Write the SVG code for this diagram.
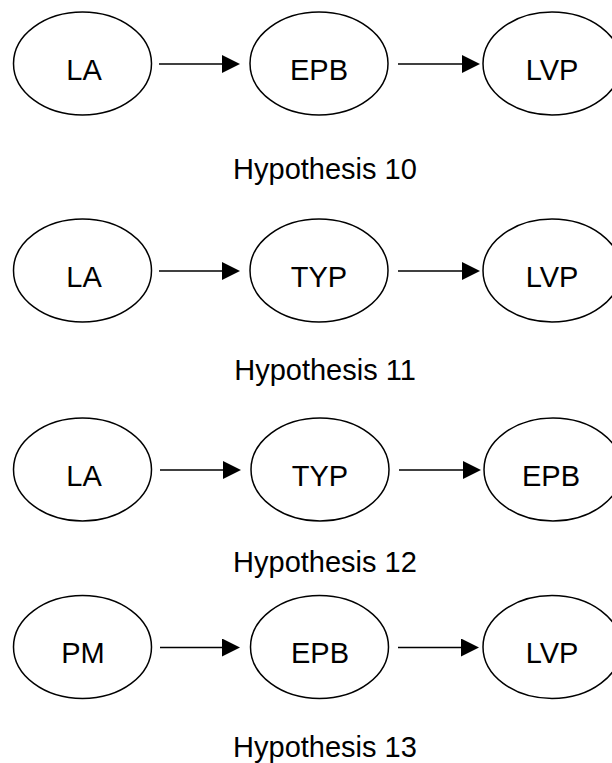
<svg xmlns="http://www.w3.org/2000/svg" width="612" height="763" viewBox="0 0 612 763">
  <style>
    .node ellipse { fill: #ffffff; stroke: #000000; stroke-width: 1.5; }
    .node text { font-family: "Liberation Sans", Arial, sans-serif; font-size: 29px; fill: #000000; text-anchor: middle; }
    .edge { stroke: #000000; stroke-width: 1.3; fill: none; marker-end: url(#arrow); }
    .caption { font-family: "Liberation Sans", Arial, sans-serif; font-size: 29px; fill: #000000; text-anchor: middle; }
  </style>
  <defs>
    <marker id="arrow" markerUnits="userSpaceOnUse" markerWidth="18" markerHeight="18" refX="8" refY="9" orient="auto">
      <path d="M0,0 L18,9 L0,18 Z" fill="#000000"/>
    </marker>
  </defs>
  <rect width="612" height="763" fill="#ffffff"/>

  <!-- Hypothesis 10 -->
  <g id="h10-la" class="node"><ellipse cx="82.5" cy="63.5" rx="69" ry="51.5"/><text x="84" y="79.5">LA</text></g>
  <g id="h10-epb" class="node"><ellipse cx="319" cy="63.5" rx="69" ry="51.5"/><text x="319" y="79.5">EPB</text></g>
  <g id="h10-lvp" class="node"><ellipse cx="552" cy="63.5" rx="69" ry="51.5"/><text x="552" y="79.5">LVP</text></g>
  <text class="caption" x="325" y="179">Hypothesis 10</text>

  <!-- Hypothesis 11 -->
  <g id="h11-la" class="node"><ellipse cx="82.5" cy="270.5" rx="69" ry="51.5"/><text x="84" y="287">LA</text></g>
  <g id="h11-typ" class="node"><ellipse cx="319" cy="270.5" rx="69" ry="51.5"/><text x="319" y="287">TYP</text></g>
  <g id="h11-lvp" class="node"><ellipse cx="552" cy="270.5" rx="69" ry="51.5"/><text x="552" y="287">LVP</text></g>
  <text class="caption" x="325" y="380">Hypothesis 11</text>

  <!-- Hypothesis 12 -->
  <g id="h12-la" class="node"><ellipse cx="82.5" cy="469.5" rx="69" ry="51.5"/><text x="84" y="486">LA</text></g>
  <g id="h12-typ" class="node"><ellipse cx="320" cy="469.5" rx="69" ry="51.5"/><text x="320" y="486">TYP</text></g>
  <g id="h12-epb" class="node"><ellipse cx="553" cy="469.5" rx="69" ry="51.5"/><text x="551" y="486">EPB</text></g>
  <text class="caption" x="325" y="571.5">Hypothesis 12</text>

  <!-- Hypothesis 13 -->
  <g id="h13-pm" class="node"><ellipse cx="82.5" cy="647" rx="69" ry="51.5"/><text x="83" y="662.5">PM</text></g>
  <g id="h13-epb" class="node"><ellipse cx="319.5" cy="647" rx="69" ry="51.5"/><text x="320" y="662.5">EPB</text></g>
  <g id="h13-lvp" class="node"><ellipse cx="552" cy="647" rx="69" ry="51.5"/><text x="552" y="662.5">LVP</text></g>
  <text class="caption" x="325" y="756.5">Hypothesis 13</text>

  <g id="connectors">
    <line class="edge" x1="159" y1="64" x2="230" y2="64"/>
    <line class="edge" x1="398" y1="64" x2="470" y2="64"/>
    <line class="edge" x1="159" y1="271" x2="230" y2="271"/>
    <line class="edge" x1="398" y1="271" x2="470" y2="271"/>
    <line class="edge" x1="160" y1="470" x2="231" y2="470"/>
    <line class="edge" x1="399" y1="470" x2="471" y2="470"/>
    <line class="edge" x1="160" y1="647.5" x2="230" y2="647.5"/>
    <line class="edge" x1="398" y1="647.5" x2="469" y2="647.5"/>
  </g>
</svg>
